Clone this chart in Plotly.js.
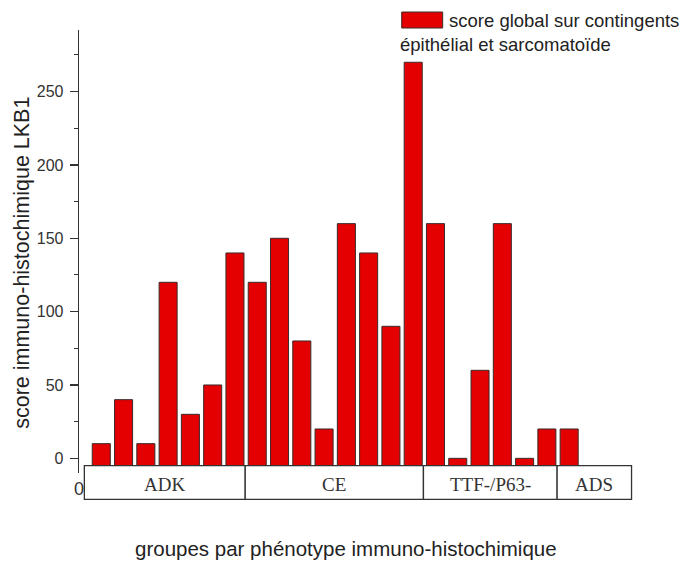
<!DOCTYPE html>
<html>
<head>
<meta charset="utf-8">
<script src="https://cdn.plot.ly/plotly-3.0.1.min.js"></script>
<style>html,body{margin:0;padding:0;background:#fff;}#chart{width:685px;height:563px;}</style>
</head>
<body>
<div id="chart"></div>
<script>
// ---- data ----
const groups = ["ADK", "CE", "TTF-/P63-", "ADS"];
const groupCounts = [7, 8, 6, 1];
const scores = [10, 40, 10, 120, 30, 50, 140,
                120, 150, 80, 20, 160, 140, 90, 270,
                160, 0, 60, 160, 0, 20,
                20];
const yTicks = [0, 50, 100, 150, 200, 250];
const seriesName = "score global sur contingents épithélial et sarcomatoïde";
const legendLine1 = "score global sur contingents";
const legendLine2 = "épithélial et sarcomatoïde";
const xTitle = "groupes par phénotype immuno-histochimique";
const yTitle = "score immuno-histochimique LKB1";

// ---- layout constants ----
const W = 685, H = 563;
const mL = 79, mR = 48.5, mT = 30, mB = 89.5;
const xRange = [0, 25];
const yRange = [-10, 292];
const barBase = -5;
const plotW = W - mL - mR, plotH = H - mT - mB;
const px2paperX = p => (p - mL) / plotW;
const px2paperY = p => (H - mB - p) / plotH;
const data2paperX = v => (v - xRange[0]) / (xRange[1] - xRange[0]);
const data2paperY = v => (v - yRange[0]) / (yRange[1] - yRange[0]);
const SANS = "Liberation Sans, Arial, sans-serif";

const xs = scores.map((_, i) => i + 1);

// bars start at barBase (top of the group box) and end at the score value
const trace = {
  type: "bar",
  x: xs,
  y: scores.map(v => v - barBase),
  base: barBase,
  width: 0.81,
  name: seriesName,
  customdata: scores,
  hovertemplate: "%{customdata}<extra></extra>",
  marker: {color: "#e40000", line: {color: "#3a2a2a", width: 1}},
  showlegend: false
};

// group boxes
const boxTop = data2paperY(barBase);
const boxBottom = px2paperY(500);
const bounds = [0.24];
let acc = 0.5;
groupCounts.forEach((c, i) => { acc += c; bounds.push(i === groupCounts.length - 1 ? 24.8 : acc - 0.04); });

const shapes = [];
const annotations = [];
groups.forEach((g, i) => {
  shapes.push({type: "rect", xref: "paper", yref: "paper",
    x0: data2paperX(bounds[i]), x1: data2paperX(bounds[i + 1]),
    y0: boxBottom, y1: boxTop,
    line: {color: "#333", width: 1.3}, fillcolor: "#fff", layer: "above"});
  annotations.push({xref: "paper", yref: "paper",
    x: data2paperX((bounds[i] + bounds[i + 1]) / 2), y: px2paperY(485),
    text: g, showarrow: false, xanchor: "center", yanchor: "middle",
    font: {family: "Liberation Serif, Times New Roman, serif", size: 19, color: "#333"}});
});

// legend swatch + text
shapes.push({type: "rect", xref: "paper", yref: "paper",
  x0: px2paperX(402), x1: px2paperX(443), y0: px2paperY(28), y1: px2paperY(12),
  fillcolor: "#e40000", line: {color: "#3a2a2a", width: 1}});
annotations.push({xref: "paper", yref: "paper", x: px2paperX(447), y: px2paperY(20),
  text: legendLine1, showarrow: false, xanchor: "left", yanchor: "middle",
  font: {family: SANS, size: 18.5, color: "#222"}});
annotations.push({xref: "paper", yref: "paper", x: px2paperX(398), y: px2paperY(45),
  text: legendLine2, showarrow: false, xanchor: "left", yanchor: "middle",
  font: {family: SANS, size: 18.5, color: "#222"}});

// axis titles
annotations.push({xref: "paper", yref: "paper", x: px2paperX(346), y: px2paperY(549),
  text: xTitle, showarrow: false, xanchor: "center", yanchor: "middle",
  font: {family: SANS, size: 20.5, color: "#222"}});
annotations.push({xref: "paper", yref: "paper", x: px2paperX(22), y: px2paperY(263),
  text: yTitle, showarrow: false, textangle: -90, xanchor: "center", yanchor: "middle",
  font: {family: SANS, size: 21.5, color: "#222"}});

const layout = {
  width: W, height: H,
  margin: {l: mL, r: mR, t: mT, b: mB, pad: 0},
  paper_bgcolor: "#fff", plot_bgcolor: "#fff",
  bargap: 0,
  xaxis: {range: xRange, showgrid: false, zeroline: false, showline: false,
    tickmode: "array", tickvals: [0], ticktext: ["0"], ticks: "",
    tickfont: {family: SANS, size: 18, color: "#333"}, ticklabelstandoff: 3},
  yaxis: {range: yRange, showgrid: false, zeroline: false, showline: true,
    linecolor: "#333", linewidth: 1.3,
    tickmode: "array", tickvals: yTicks, ticks: "outside", ticklen: 8, tickwidth: 1.2, tickcolor: "#333",
    minor: {dtick: 25, tick0: 0, ticks: "outside", ticklen: 4, tickcolor: "#333", tickwidth: 1},
    tickfont: {family: SANS, size: 16, color: "#333"}, ticklabelstandoff: 3},
  shapes: shapes,
  annotations: annotations,
  showlegend: false
};

Plotly.newPlot("chart", [trace], layout, {displayModeBar: false, staticPlot: true});
</script>
</body>
</html>
